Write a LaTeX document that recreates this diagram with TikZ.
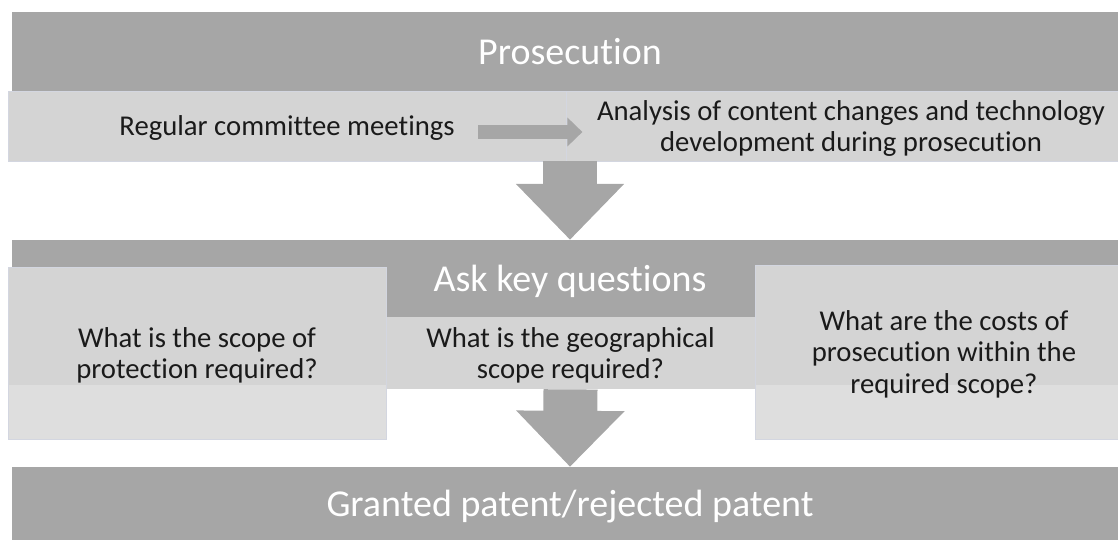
\documentclass[tikz,border=0pt]{standalone}
\usepackage{fontspec}
\setmainfont{Carlito}[Ligatures=NoCommon]
\usetikzlibrary{arrows.meta,calc}
\definecolor{dark}{HTML}{A6A6A6}
\definecolor{lightA}{HTML}{D4D4D4}
\definecolor{lightB}{HTML}{DEDEDE}
\definecolor{edge}{HTML}{D3D6E0}
\definecolor{txt}{HTML}{1A1A1A}
\begin{document}
\begin{tikzpicture}[x=1pt,y=1pt,
  bar/.style={fill=dark, inner sep=0, text=white, text depth=0pt, font=\fontsize{38}{46}\selectfont},
  box/.style={fill=lightA, draw=edge, line width=0.8pt, inner sep=0, text=txt, text depth=0pt, align=center, font=\fontsize{28.7}{31.5}\selectfont},
  twotone/.style={box, fill=lightB, path picture={\fill[lightA] (path picture bounding box.north west) rectangle ($(path picture bounding box.south east)+(0,#1)$);}},
  fatarrow/.style={draw=dark, line width=54pt, -{Triangle[width=105pt,length=56pt]}},
  thinarrow/.style={draw=dark, line width=14pt, -{Triangle[width=28pt,length=15pt]}}
]
\useasboundingbox (0,0) rectangle (1118,540);
\clip (0,0) rectangle (1118,540);
% top section
\node[bar, minimum width=1116pt, minimum height=79pt] (pros) at (570,488.5) {Prosecution};
\node[box, minimum width=570pt, minimum height=70pt] (ana) at (851,414) {Analysis of content changes and technology\\development during prosecution};
\node[box, minimum width=558pt, minimum height=70pt] (reg) at (287,414) {Regular committee meetings};
\coordinate (s1) at ($(reg.east)+(-88,-6)$);
\coordinate (s2) at ($(reg.east)+(16,-6)$);
\draw[thinarrow] (s1) -- (s2);
% middle section
\node[bar, minimum width=1116pt, minimum height=77pt] (ask) at (570,261.5) {Ask key questions};
\draw[fatarrow] (pros.south |- reg.south) -- (ask.north);
\node[box, draw=none, minimum width=369pt, minimum height=72pt] (q2) at (570.5,187) {What is the geographical\\scope required?};
\node[twotone=54, minimum width=378pt, minimum height=172pt] (q1) at (197,187) {What is the scope of\\protection required?};
\node[twotone=54, minimum width=378pt, minimum height=174pt] (q3) at (944,188) {What are the costs of\\prosecution within the\\required scope?};
% bottom
\node[bar, minimum width=1116pt, minimum height=73pt] (grant) at (570,36.5) {Granted patent/rejected patent};
\draw[fatarrow] (q2.south) -- (grant.north);
\end{tikzpicture}
\end{document}
